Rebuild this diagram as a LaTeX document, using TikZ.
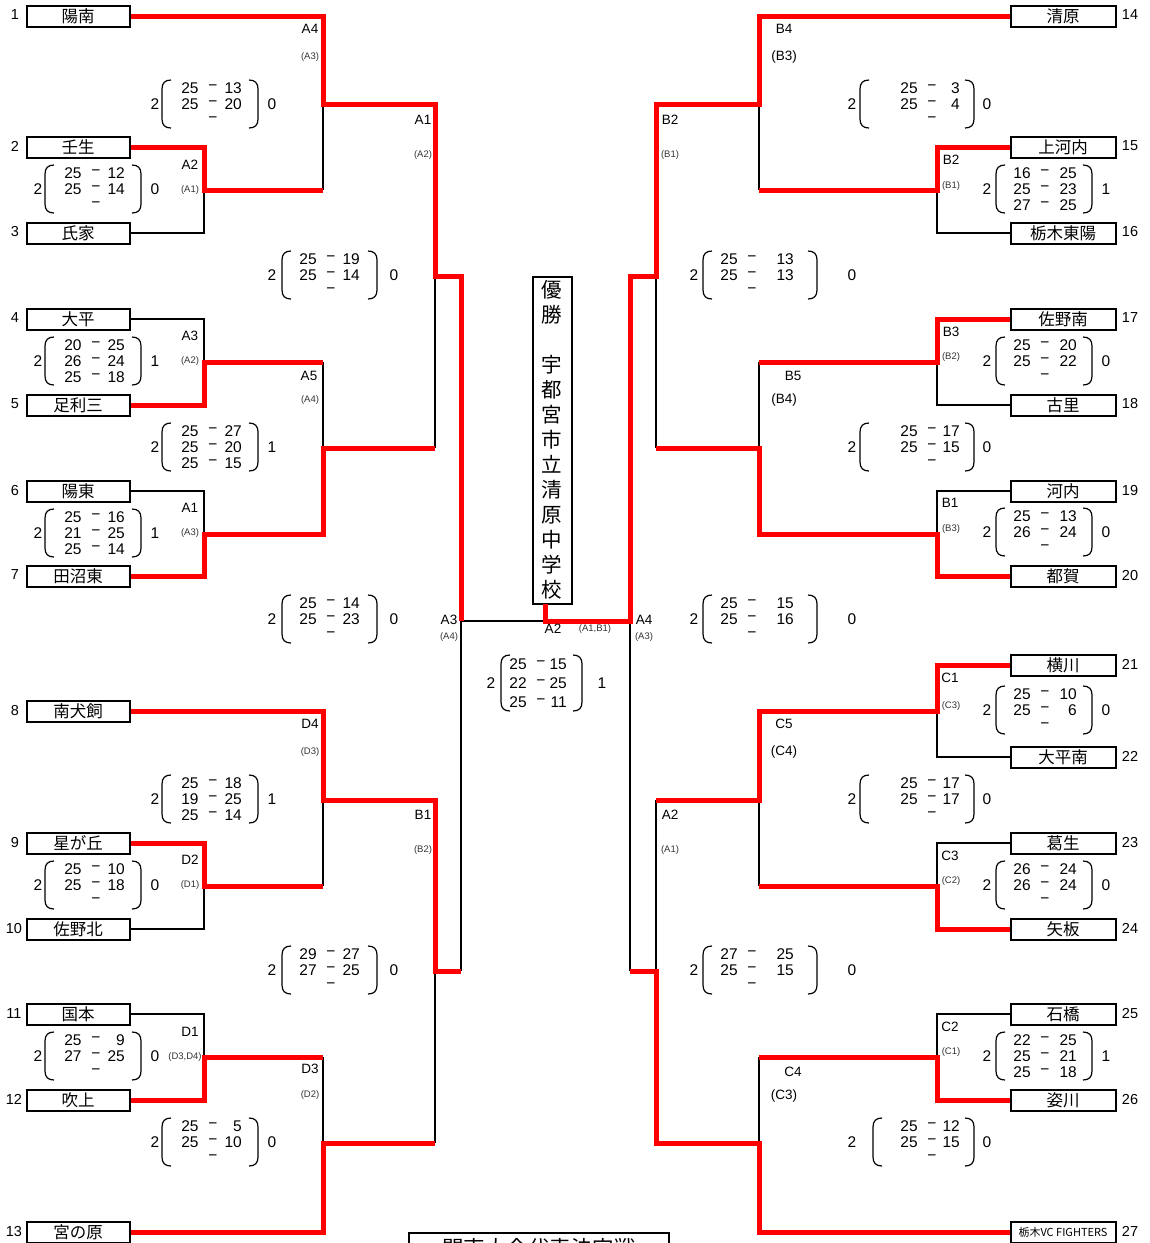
\documentclass[tikz,border=0pt]{standalone}
\usepackage{fontspec}
\setmainfont{Liberation Sans}
\newfontfamily\jp{Noto Sans CJK JP}
\newcounter{autoname}
\newcommand{\geo}[7]{\def\gA{#1}\def\gB{#2}\def\gC{#3}\def\gD{#4}\def\gE{#5}\def\gF{#6}\def\gG{#7}}
\newcommand{\rowgap}{16}
\newcommand{\halfh}{24}
\newcommand{\txt}[4][numtext]{\stepcounter{autoname}\node[#1] (n\theautoname) at (#2,#3) {#4};}
\newcommand{\sbk}[8]{%
  \txt{\gA}{#1}{2}
  \txt{\gG}{#1}{#8}
  \draw[parenline] ({\gB+9},{#1-\halfh}) .. controls ({\gB+3},{#1-\halfh}) and (\gB,{#1-\halfh+3}) .. (\gB,{#1-\halfh+9}) -- (\gB,{#1+\halfh-9}) .. controls (\gB,{#1+\halfh-3}) and ({\gB+3},{#1+\halfh}) .. ({\gB+9},{#1+\halfh});
  \draw[parenline] ({\gF-9},{#1-\halfh}) .. controls ({\gF-3},{#1-\halfh}) and (\gF,{#1-\halfh+3}) .. (\gF,{#1-\halfh+9}) -- (\gF,{#1+\halfh-9}) .. controls (\gF,{#1+\halfh-3}) and ({\gF-3},{#1+\halfh}) .. ({\gF-9},{#1+\halfh});
  \txt{\gC}{#1-\rowgap}{#2}\txt{\gD}{#1-\rowgap}{−}\txt[numright]{\gE+10}{#1-\rowgap}{#3}
  \txt{\gC}{#1}{#4}\txt{\gD}{#1}{−}\txt[numright]{\gE+10}{#1}{#5}
  \txt{\gC}{#1+\rowgap}{#6}\txt{\gD}{#1+\rowgap}{−}\txt[numright]{\gE+10}{#1+\rowgap}{#7}
}
\tikzset{
  x=1pt,y=-1pt,
  teambox/.style={draw=black,line width=2pt,minimum width=103pt,minimum height=21pt,inner sep=0pt,font=\jp\fontsize{16.5}{17}\selectfont},
  teamboxr/.style={teambox,minimum width=105pt},
  win/.style={draw=red,line width=5pt,line join=miter},
  lose/.style={draw=black,line width=2pt},
  numtext/.style={inner sep=0pt,font=\fontsize{15.5}{16}\selectfont},
  numright/.style={numtext,anchor=east},
  seed/.style={inner sep=0pt,font=\fontsize{14.5}{15}\selectfont},
  lab/.style={inner sep=0pt,font=\fontsize{13.5}{14}\selectfont},
  sm/.style={inner sep=0pt,font=\fontsize{9.5}{10}\selectfont,text=black!80},
  parenline/.style={draw=black,line width=1.2pt},
  champbox/.style={draw=black,line width=2pt,minimum width=39pt,minimum height=327pt,inner sep=0pt,align=center,font=\jp\fontsize{20.5}{25}\selectfont},
}
\begin{document}
\begin{tikzpicture}
\useasboundingbox (0,0) rectangle (1150,1243);
\clip (0,0) rectangle (1150,1243);
% teams left
\foreach \i/\y/\t in {1/16/陽南,2/147/壬生,3/233/氏家,4/319/大平,5/405/足利三,6/491/陽東,7/576/田沼東,8/711/南犬飼,9/843/星が丘,10/929/佐野北,11/1014/国本,12/1100/吹上,13/1232/宮の原}
  {\node[teambox] (t\i) at (78,\y) {\t};}
\foreach \i/\y/\t in {14/16/清原,15/147/上河内,16/233/栃木東陽,17/319/佐野南,18/405/古里,19/491/河内,20/576/都賀,21/665/横川,22/757/大平南,23/843/葛生,24/929/矢板,25/1014/石橋,26/1100/姿川}
  {\node[teamboxr] (t\i) at (1063,\y) {\t};}
\node[teamboxr,font=\jp\fontsize{11}{12}\selectfont] (t27) at (1063,1232) {栃木VC FIGHTERS};
% seeds
\foreach \i/\x/\y in {1/15/16,2/15/147,3/15/233,4/15/319,5/15/405,6/15/491,7/15/576,8/15/711,9/15/843,10/14/929,11/14/1014,12/14/1100,13/14/1232}
  {\node[seed] (s\i) at (\x,\y-1) {\i};}
\foreach \i/\y in {14/16,15/147,16/233,17/319,18/405,19/491,20/576,21/665,22/757,23/843,24/929,25/1014,26/1100,27/1232}
  {\node[seed] (s\i) at (1130,\y-1) {\i};}
% champion and final boxes
\node[champbox] (champ) at (552,440) {優\\勝\\\mbox{}\\宇\\都\\宮\\市\\立\\清\\原\\中\\学\\校};
\node[draw=black,line width=2pt,minimum width=260pt,minimum height=30pt,anchor=north,inner sep=0pt,font=\jp\fontsize{21.5}{22}\selectfont] (kanto) at (539,1232) {関東大会代表決定戦};
% junctions
\coordinate (jA2) at (204,190);
\coordinate (jA2o) at (323,190);
\coordinate (jA4) at (323,104);
\coordinate (jA1) at (435,276);
\coordinate (jA1o) at (435,448);
\coordinate (jA3) at (204,362);
\coordinate (jA3o) at (323,362);
\coordinate (jA5) at (323,448);
\coordinate (jA1b) at (204,534);
\coordinate (jFL) at (461,621);
\coordinate (jD4) at (323,800);
\coordinate (jD2) at (204,886);
\coordinate (jD2o) at (323,886);
\coordinate (jB1) at (435,971);
\coordinate (jB1o) at (461,971);
\coordinate (jD1) at (204,1057);
\coordinate (jD1o) at (323,1057);
\coordinate (jD3) at (323,1143);
\coordinate (jD3o) at (435,1143);
\coordinate (jC) at (545,621);
\coordinate (jCt) at (545,604);
\coordinate (jFR) at (630,621);
\coordinate (jB2) at (937,190);
\coordinate (jB2o) at (759,190);
\coordinate (jB4) at (759,104);
\coordinate (jB2t) at (656,276);
\coordinate (jB3) at (937,362);
\coordinate (jB3o) at (759,362);
\coordinate (jB5) at (759,448);
\coordinate (jB5o) at (656,448);
\coordinate (jB1r) at (937,534);
\coordinate (jC1) at (937,711);
\coordinate (jC5) at (759,800);
\coordinate (jC5o) at (656,800);
\coordinate (jC3) at (937,886);
\coordinate (jC3o) at (759,886);
\coordinate (jC2) at (937,1057);
\coordinate (jC2o) at (759,1057);
\coordinate (jC4) at (759,1143);
\coordinate (jA2r) at (656,971);
\coordinate (jA2ro) at (630,971);
% losers
\draw[lose] (t3.east) -| (jA2);
\draw[lose] (jA2o) -- (jA4);
\draw[lose] (t4.east) -| (jA3);
\draw[lose] (jA3o) -- (jA5);
\draw[lose] (t6.east) -| (jA1b);
\draw[lose] (jA1o) -- (jA1);
\draw[lose] (jFL) -- (jC);
\draw[lose] (jB1o) -- (jFL);
\draw[lose] (t10.east) -| (jD2);
\draw[lose] (jD2o) -- (jD4);
\draw[lose] (t11.east) -| (jD1);
\draw[lose] (jD1o) -- (jD3);
\draw[lose] (jD3o) -- (jB1);
\draw[lose] (t16.west) -| (jB2);
\draw[lose] (jB2o) -- (jB4);
\draw[lose] (t18.west) -| (jB3);
\draw[lose] (jB3o) -- (jB5);
\draw[lose] (t19.west) -| (jB1r);
\draw[lose] (jB5o) -- (jB2t);
\draw[lose] (jA2ro) -- (jFR);
\draw[lose] (t22.west) -| (jC1);
\draw[lose] (jC5o) -- (jA2r);
\draw[lose] (t23.west) -| (jC3);
\draw[lose] (jC3o) -- (jC5);
\draw[lose] (t25.west) -| (jC2);
\draw[lose] (jC2o) -- (jC4);
% winners
\draw[win] (t1.east) -| (jA4) -| (jA1) -| (jFL);
\draw[win] (t2.east) -| (jA2) -- (jA2o);
\draw[win] (t5.east) -| (jA3) -- (jA3o);
\draw[win] (t7.east) -| (jA1b) -| (jA5) -- (jA1o);
\draw[win] (t8.east) -| (jD4) -| (jB1) -- (jB1o);
\draw[win] (t9.east) -| (jD2) -- (jD2o);
\draw[win] (t12.east) -| (jD1) -- (jD1o);
\draw[win] (t13.east) -| (jD3) -- (jD3o);
\draw[win] (t14.west) -| (jB4) -| (jB2t) -| (jFR) -- (jC) -- (jCt);
\draw[win] (t15.west) -| (jB2) -- (jB2o);
\draw[win] (t17.west) -| (jB3) -- (jB3o);
\draw[win] (t20.west) -| (jB1r) -| (jB5) -- (jB5o);
\draw[win] (t21.west) -| (jC1) -| (jC5) -- (jC5o);
\draw[win] (t24.west) -| (jC3) -- (jC3o);
\draw[win] (t26.west) -| (jC2) -- (jC2o);
\draw[win] (t27.west) -| (jC4) -| (jA2r) -- (jA2ro);
% scores, left
\geo{155}{162}{190}{213}{232}{258}{272}
\sbk{104}{25}{13}{25}{20}{}{}{0}
\sbk{447}{25}{27}{25}{20}{25}{15}{1}
\sbk{799}{25}{18}{19}{25}{25}{14}{1}
\sbk{1142}{25}{5}{25}{10}{}{}{0}
\geo{38}{45}{73}{96}{115}{141}{155}
\sbk{189}{25}{12}{25}{14}{}{}{0}
\sbk{361}{20}{25}{26}{24}{25}{18}{1}
\sbk{533}{25}{16}{21}{25}{25}{14}{1}
\sbk{885}{25}{10}{25}{18}{}{}{0}
\sbk{1056}{25}{9}{27}{25}{}{}{0}
\geo{272}{282}{308}{331}{350}{377}{394}
\sbk{275}{25}{19}{25}{14}{}{}{0}
\sbk{619}{25}{14}{25}{23}{}{}{0}
\sbk{970}{29}{27}{27}{25}{}{}{0}
% scores, right
\geo{852}{860}{909}{932}{950}{974}{987}
\sbk{104}{25}{3}{25}{4}{}{}{0}
\sbk{447}{25}{17}{25}{15}{}{}{0}
\sbk{799}{25}{17}{25}{17}{}{}{0}
\geo{852}{873}{909}{932}{950}{974}{987}
\sbk{1142}{25}{12}{25}{15}{}{}{0}
\geo{987}{996}{1022}{1045}{1067}{1092}{1106}
\sbk{189}{16}{25}{25}{23}{27}{25}{1}
\sbk{361}{25}{20}{25}{22}{}{}{0}
\sbk{532}{25}{13}{26}{24}{}{}{0}
\sbk{710}{25}{10}{25}{6}{}{}{0}
\sbk{885}{26}{24}{26}{24}{}{}{0}
\sbk{1056}{22}{25}{25}{21}{25}{18}{1}
\geo{694}{703}{729}{752}{784}{817}{852}
\sbk{275}{25}{13}{25}{13}{}{}{0}
\sbk{619}{25}{15}{25}{16}{}{}{0}
\sbk{970}{27}{25}{25}{15}{}{}{0}
% centre score
\renewcommand{\rowgap}{19}
\renewcommand{\halfh}{28}
\geo{491}{501}{518}{541}{557}{582}{602}
\sbk{683}{25}{15}{22}{25}{25}{11}{1}
% labels
\txt[lab]{310}{29}{A4}\txt[sm]{310}{57}{(A3)}
\txt[lab]{190}{165}{A2}\txt[sm]{190}{190}{(A1)}
\txt[lab]{423}{120}{A1}\txt[sm]{423}{155}{(A2)}
\txt[lab]{190}{336}{A3}\txt[sm]{190}{361}{(A2)}
\txt[lab]{309}{376}{A5}\txt[sm]{310}{400}{(A4)}
\txt[lab]{190}{508}{A1}\txt[sm]{190}{533}{(A3)}
\txt[lab]{449}{620}{A3}\txt[sm]{449}{637}{(A4)}
\txt[lab]{553}{629}{A2}\txt[sm]{595}{629}{(A1,B1)}
\txt[lab]{644}{620}{A4}\txt[sm]{644}{637}{(A3)}
\txt[lab]{310}{724}{D4}\txt[sm]{310}{752}{(D3)}
\txt[lab]{190}{860}{D2}\txt[sm]{190}{885}{(D1)}
\txt[lab]{423}{815}{B1}\txt[sm]{423}{850}{(B2)}
\txt[lab]{190}{1032}{D1}\txt[sm]{185}{1057}{(D3,D4)}
\txt[lab]{310}{1069}{D3}\txt[sm]{310}{1095}{(D2)}
\txt[lab]{784}{29}{B4}\txt[lab]{784}{57}{(B3)}
\txt[lab]{670}{120}{B2}\txt[sm]{670}{155}{(B1)}
\txt[lab]{951}{160}{B2}\txt[sm]{951}{186}{(B1)}
\txt[lab]{951}{332}{B3}\txt[sm]{951}{357}{(B2)}
\txt[lab]{793}{376}{B5}\txt[lab]{784}{400}{(B4)}
\txt[lab]{950}{503}{B1}\txt[sm]{951}{529}{(B3)}
\txt[lab]{950}{678}{C1}\txt[sm]{951}{706}{(C3)}
\txt[lab]{784}{724}{C5}\txt[lab]{784}{752}{(C4)}
\txt[lab]{670}{815}{A2}\txt[sm]{670}{850}{(A1)}
\txt[lab]{950}{856}{C3}\txt[sm]{951}{881}{(C2)}
\txt[lab]{950}{1027}{C2}\txt[sm]{951}{1052}{(C1)}
\txt[lab]{793}{1072}{C4}\txt[lab]{784}{1096}{(C3)}
\end{tikzpicture}
\end{document}
